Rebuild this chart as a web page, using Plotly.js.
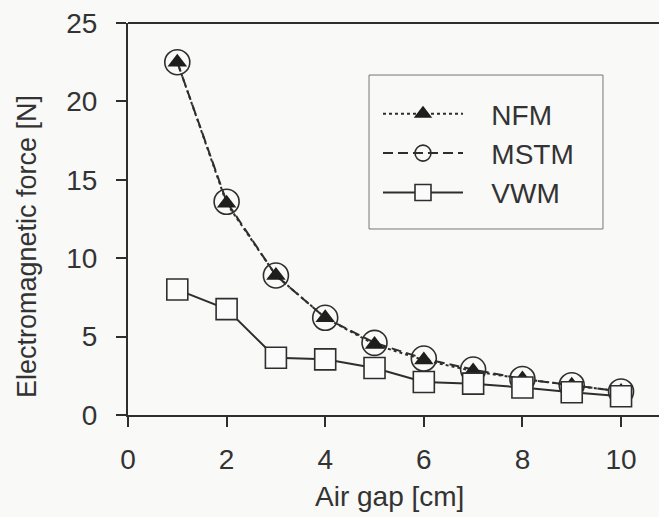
<!DOCTYPE html>
<html>
<head>
<meta charset="utf-8">
<script src="https://cdn.plot.ly/plotly-3.0.1.min.js"></script>
<style>html,body{margin:0;padding:0;background:#f9f9f8;}#chart{width:659px;height:517px;}</style>
</head>
<body>
<div id="chart"></div>
<script>
const airGap = [1, 2, 3, 4, 5, 6, 7, 8, 9, 10];
const nfm  = [22.5, 13.5, 8.9, 6.2, 4.5, 3.5, 2.8, 2.3, 1.9, 1.5];
const mstm = [22.5, 13.6, 8.9, 6.2, 4.6, 3.6, 2.9, 2.3, 1.9, 1.5];
const vwm  = [8.0, 6.75, 3.65, 3.55, 3.0, 2.1, 2.0, 1.75, 1.45, 1.2];
const xTicks = [0, 2, 4, 6, 8, 10];
const yTicks = [0, 5, 10, 15, 20, 25];

const ink = '#2e2e2e';
const fontFam = '"Liberation Sans", Arial, Helvetica, sans-serif';
const pad = '\u00a0\u00a0\u00a0';

const traces = [
  { x: airGap, y: mstm, name: pad + 'MSTM', mode: 'lines+markers', legendrank: 2,
    line: {color: ink, width: 2, dash: '10px,5px'},
    marker: {symbol: 'circle-open', size: 25, color: ink, line: {width: 1.6, color: ink}} },
  { x: airGap, y: nfm, name: pad + 'NFM', mode: 'lines+markers', legendrank: 1,
    line: {color: ink, width: 2, dash: 'dot'},
    marker: {symbol: 'triangle-up', size: 17, color: '#1e1e1e', line: {width: 0}} },
  { x: airGap, y: vwm, name: pad + 'VWM', mode: 'lines+markers', legendrank: 3,
    line: {color: ink, width: 2, dash: 'solid'},
    marker: {symbol: 'square', size: 21, color: '#fbfbfb', line: {width: 1.6, color: ink}} }
];

const layout = {
  width: 659, height: 517,
  margin: {l: 128, r: 0, t: 23, b: 102},
  paper_bgcolor: '#f9f9f8', plot_bgcolor: '#f9f9f8',
  font: {family: fontFam, color: '#333', size: 28},
  showlegend: true,
  legend: {
    x: 0.4708, y: 0.8316, xanchor: 'left', yanchor: 'top',
    bgcolor: 'rgba(0,0,0,0)', borderwidth: 0,
    font: {family: fontFam, size: 28, color: '#333'},
    itemwidth: 80, traceorder: 'normal', tracegroupgap: 0
  },
  xaxis: {
    range: [0, 10.77], tickvals: xTicks, ticktext: xTicks.map(String),
    showgrid: false, zeroline: false, showline: true, linecolor: ink, linewidth: 2,
    mirror: false, ticks: 'outside', ticklen: 10, tickwidth: 2, tickcolor: ink,
    ticklabelstandoff: 8, tickfont: {size: 28, color: '#333'}
  },
  yaxis: {
    range: [0, 25], tickvals: yTicks, ticktext: yTicks.map(String),
    showgrid: false, zeroline: false, showline: true, linecolor: ink, linewidth: 2,
    ticks: 'outside', ticklen: 10, tickwidth: 2, tickcolor: ink,
    ticklabelstandoff: 13, tickfont: {size: 28, color: '#333'}
  },
  shapes: [
    {type: 'line', xref: 'paper', yref: 'paper', x0: 0, x1: 1, y0: 1, y1: 1,
     line: {color: ink, width: 2}},
    {type: 'rect', xref: 'paper', yref: 'paper', x0: 0.4539, x1: 0.8945, y0: 0.4745, y1: 0.8673,
     line: {color: '#777', width: 1}, fillcolor: 'rgba(0,0,0,0)'}
  ],
  annotations: [
    {text: 'Electromagnetic force [N]', xref: 'paper', yref: 'paper',
     x: -0.19, y: 0.4286, xanchor: 'center', yanchor: 'middle', textangle: -90,
     showarrow: false, font: {size: 27, color: '#333', family: fontFam}},
    {text: 'Air gap [cm]', xref: 'paper', yref: 'paper',
     x: 0.4934, y: -0.209, xanchor: 'center', yanchor: 'middle',
     showarrow: false, font: {size: 28, color: '#333', family: fontFam}}
  ]
};

Plotly.newPlot('chart', traces, layout, {displayModeBar: false, staticPlot: true});
</script>
</body>
</html>
